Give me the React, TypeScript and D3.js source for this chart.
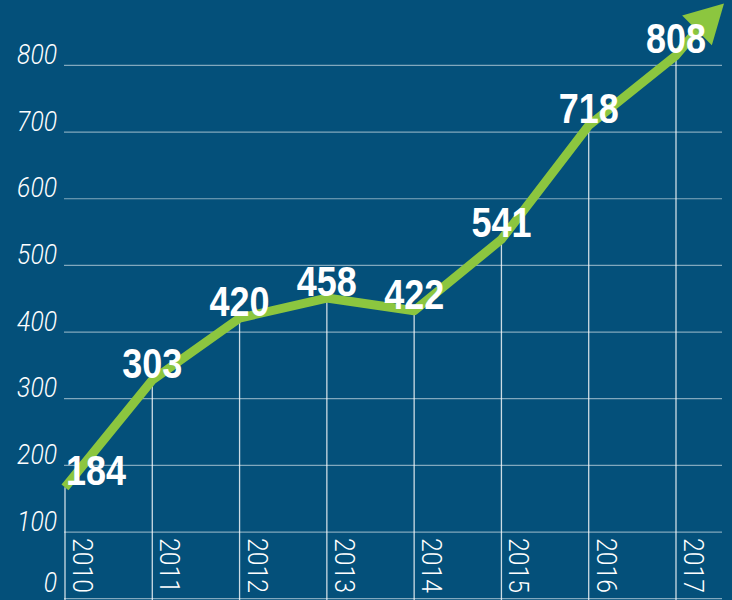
import React from "react";
import * as d3 from "d3";

const years = ["2010", "2011", "2012", "2013", "2014", "2015", "2016", "2017"];
const labelValues = [184, 303, 420, 458, 422, 541, 718, 808];
// trend line as drawn in the picture (it does not sit exactly on the labels)
const trendValues = [167, 328, 421, 451, 432, 539, 710, 815];
const yTicks = [0, 100, 200, 300, 400, 500, 600, 700, 800];

const W = 732;
const H = 600;
const BG = "#04507a";
const GREEN = "#8cc63f";
const BOLDFONT = "'Liberation Sans', Arial, sans-serif";
const THINFONT = "Roboto, 'Liberation Sans', sans-serif";

export default function App() {
  const x = d3.scalePoint<string>().domain(years).range([65, 676]);
  const y = d3.scaleLinear().domain([0, 800]).range([598.7, 65.4]);

  const pts: [number, number][] = years.map((yr, i) => [x(yr) as number, y(trendValues[i])]);
  const last = pts[pts.length - 1];
  const baseC: [number, number] = [last[0] + 21, last[1] - 25];
  const tip: [number, number] = [last[0] + 48, last[1] - 52];
  const lineGen = d3.line().curve(d3.curveLinear);
  const linePath = lineGen([...pts]) + `L${baseC[0]},${baseC[1]}`;

  const dx = tip[0] - baseC[0];
  const dy = tip[1] - baseC[1];
  const len = Math.hypot(dx, dy);
  const nx = -dy / len;
  const ny = dx / len;
  const hw = 21;
  const arrow = `M${baseC[0] + nx * hw},${baseC[1] + ny * hw}L${tip[0]},${tip[1]}L${baseC[0] - nx * hw},${baseC[1] - ny * hw}Z`;

  return (
    <svg
      width={W}
      height={H}
      style={{ position: "fixed", left: 0, top: 0, display: "block" }}
    >
      <rect x={0} y={0} width={W} height={H} fill={BG} />
      {yTicks.map((t) => (
        <line
          key={"g" + t}
          x1={64}
          x2={722}
          y1={y(t)}
          y2={y(t)}
          stroke="#ffffff"
          strokeOpacity={0.5}
          strokeWidth={1.2}
        />
      ))}
      {yTicks.map((t) => {
        const s = String(t);
        return (
          <text
            key={"t" + t}
            x={57}
            y={Math.min(y(t) - 1.5, 592)}
            textAnchor="end"
            fill="#ffffff"
            fontFamily={THINFONT}
            fontWeight={300}
            fontStyle="italic"
            fontSize={28}
            textLength={13.3 * s.length}
            lengthAdjust="spacingAndGlyphs"
          >
            {s}
          </text>
        );
      })}
      {years.map((yr, i) => (
        <line
          key={"v" + yr}
          x1={x(yr)}
          x2={x(yr)}
          y1={y(trendValues[i])}
          y2={H}
          stroke="#ffffff"
          strokeOpacity={0.8}
          strokeWidth={1.3}
        />
      ))}
      {years.map((yr) => (
        <text
          key={"yl" + yr}
          transform={`translate(${(x(yr) as number) + 8},538) rotate(90)`}
          fill="#ffffff"
          fontFamily={THINFONT}
          fontWeight={300}
          fontSize={28}
          textLength={55}
          lengthAdjust="spacingAndGlyphs"
        >
          {yr}
        </text>
      ))}
      <path d={linePath} fill="none" stroke={GREEN} strokeWidth={9} strokeLinejoin="round" />
      <path d={arrow} fill={GREEN} />
      {years.map((yr, i) => (
        <text
          key={"l" + yr}
          x={i === 0 ? (x(yr) as number) + 1 : (x(yr) as number)}
          y={y(trendValues[i]) - 2}
          textAnchor={i === 0 ? "start" : "middle"}
          fill="#ffffff"
          fontFamily={BOLDFONT}
          fontWeight="bold"
          fontSize={42}
          textLength={60}
          lengthAdjust="spacingAndGlyphs"
        >
          {labelValues[i]}
        </text>
      ))}
    </svg>
  );
}
